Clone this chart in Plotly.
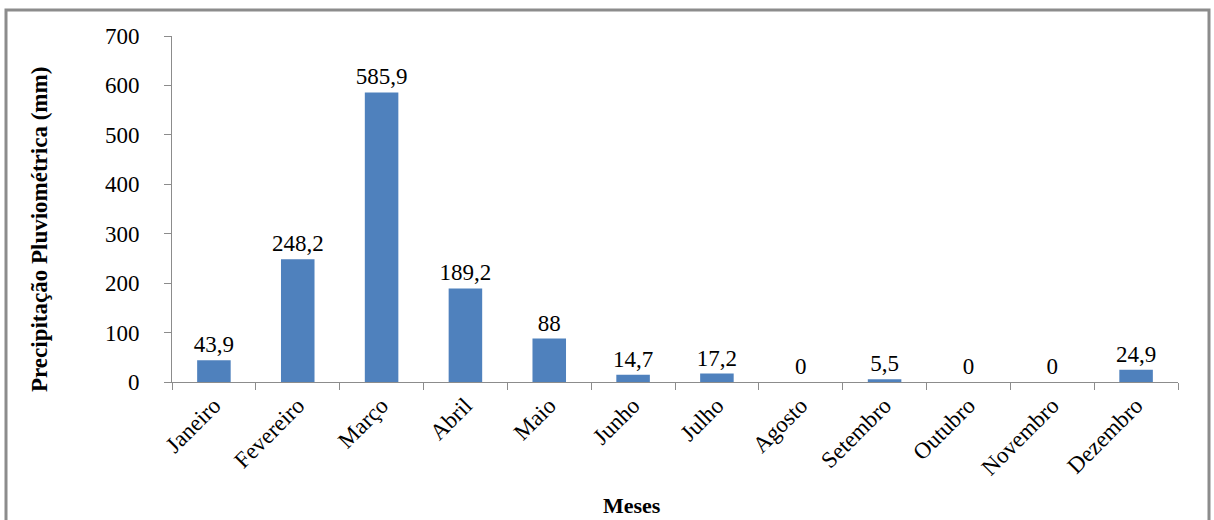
import plotly.graph_objects as go

meses = ["Janeiro", "Fevereiro", "Março", "Abril", "Maio", "Junho", "Julho",
         "Agosto", "Setembro", "Outubro", "Novembro", "Dezembro"]
precip = [43.9, 248.2, 585.9, 189.2, 88, 14.7, 17.2, 0, 5.5, 0, 0, 24.9]
labels = [("%g" % v).replace(".", ",") for v in precip]
y_ticks = [0, 100, 200, 300, 400, 500, 600, 700]

serif = "Liberation Serif"

fig = go.Figure(go.Bar(
    x=meses, y=precip, text=labels, textposition="outside",
    constraintext="none",
    textfont=dict(family=serif, size=23, color="black"),
    marker=dict(color="#4F81BD", line=dict(width=0)),
    cliponaxis=False,
))

fig.update_layout(
    width=1214, height=520,
    margin=dict(l=172, r=36, t=36, b=138),
    paper_bgcolor="white", plot_bgcolor="white",
    bargap=0.6, showlegend=False,
    font=dict(family=serif, color="black"),
    xaxis=dict(
        type="category", tickson="boundaries", ticks="outside", ticklen=7,
        tickcolor="#8c8c8c", showline=True, linecolor="#8c8c8c", linewidth=1,
        tickangle=-45, tickfont=dict(family=serif, size=23, color="black"),
        showgrid=False,
    ),
    yaxis=dict(
        range=[0, 700], tickvals=y_ticks, ticks="outside", ticklen=7,
        tickcolor="#8c8c8c", showline=True, linecolor="#8c8c8c", linewidth=1,
        tickfont=dict(family=serif, size=23, color="black"),
        showgrid=False, zeroline=False, ticklabelstandoff=20,
    ),
    annotations=[
        dict(text="<b>Precipitação Pluviométrica (mm)</b>", textangle=-90,
             xref="paper", yref="paper", x=(39 - 172) / 1006, y=(382 - 230) / 346,
             showarrow=False, font=dict(family=serif, size=23, color="black"),
             xanchor="center", yanchor="middle"),
        dict(text="<b>Meses</b>", xref="paper", yref="paper",
             x=(632 - 172) / 1006, y=(382 - 505) / 346,
             showarrow=False, font=dict(family=serif, size=22, color="black"),
             xanchor="center", yanchor="middle"),
    ],
    shapes=[dict(type="rect", xref="paper", yref="paper",
                 x0=(6 - 172) / 1006, x1=(1209 - 172) / 1006,
                 y0=(382 - 530) / 346, y1=(382 - 10) / 346,
                 line=dict(color="#8c8c8c", width=3), layer="below")],
)

fig.write_html("out.html")
